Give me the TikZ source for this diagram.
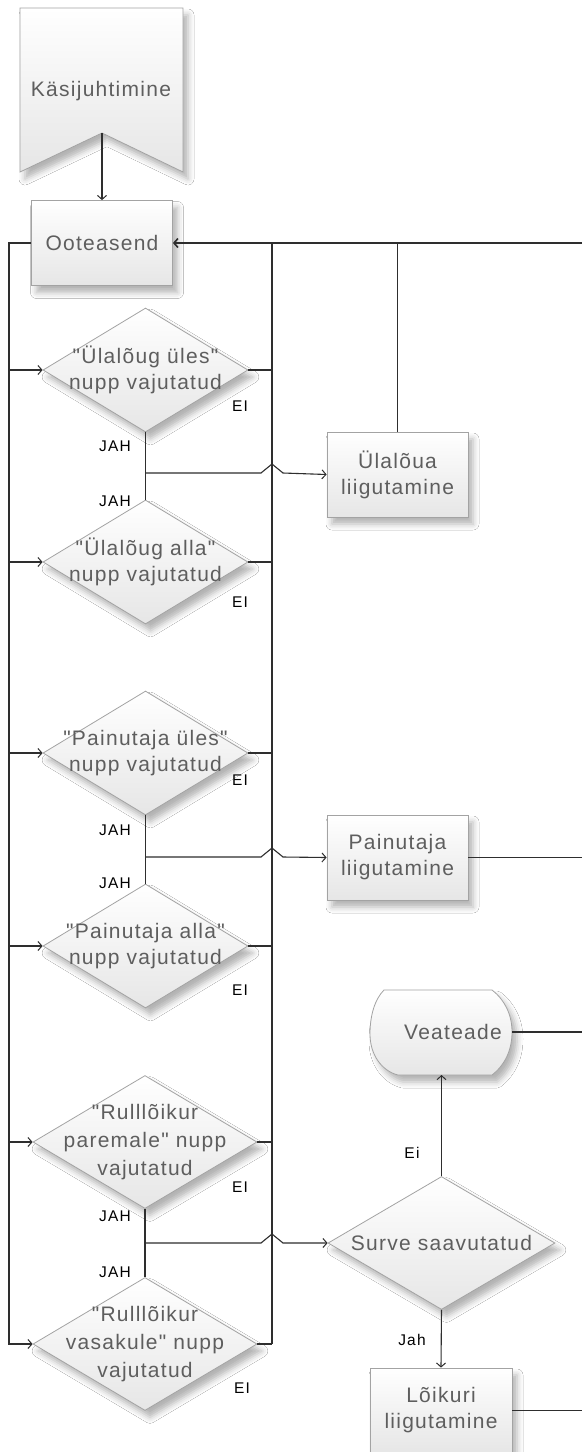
\documentclass[tikz,border=0pt]{standalone}
\usepackage{fontspec}
\setmainfont{Liberation Sans}
\newfontfamily\boxfont[LetterSpace=6]{Liberation Sans}
\newfontfamily\lblfont[LetterSpace=8]{Liberation Sans}
\usetikzlibrary{shapes.geometric, arrows.meta, shadows.blur, calc}
\definecolor{edgecol}{HTML}{2E2E2E}
\definecolor{bordercol}{HTML}{A3A3A3}
\definecolor{textcol}{HTML}{5E5E5E}
\definecolor{fillbot}{HTML}{E6E6E6}

\tikzset{
  flow/.style={draw=edgecol, line width=1.1pt},
  arr/.style={flow, -{Straight Barb[length=4pt,width=9pt,line width=1pt]}},
  shaded/.style={draw=bordercol, line width=0.8pt, top color=white, bottom color=fillbot,
    blur shadow={shadow xshift=5pt, shadow yshift=-7pt, shadow blur radius=6pt, shadow opacity=30}},
  txt/.style={align=center, text=textcol, font=\boxfont\fontsize{21}{26}\selectfont},
  procbox/.style={shaded, txt, rectangle, minimum width=141pt, minimum height=85pt, inner sep=0pt},
  decision/.style={shaded, diamond, minimum width=205pt, minimum height=124pt, inner sep=0pt},
  bigdecision/.style={decision, minimum width=224pt, minimum height=133pt},
  lbl/.style={font=\lblfont\fontsize{15.5}{15.5}\selectfont, text=black, inner sep=0pt},
}

\begin{document}
\begin{tikzpicture}[x=1pt, y=-1pt]
\useasboundingbox (0,0) rectangle (582,1452);
\clip (0,0) rectangle (582,1452);
\fill[white] (0,0) rectangle (582,1452);

% start banner
\draw[shaded] (20,8) -- (183,8) -- (183,172) -- (102,133) -- (20,172) -- cycle;
\node[txt] (kasi) at (101,91) {Käsijuhtimine};
\coordinate (kasin) at (102,133);

% waiting state
\node[procbox] (ootea) at (102,243) {Ooteasend};

% button decisions
\node[decision] (d1) at (145.5,370) {};
\node[decision] (d2) at (145.5,562) {};
\node[decision] (d3) at (145.5,753) {};
\node[decision] (d4) at (145.5,946) {};
\node[bigdecision] (d5) at (145,1142) {};
\node[bigdecision] (d6) at (145,1344) {};
\node[txt] (t1) at (d1) {"Ülalõug üles"\\nupp vajutatud};
\node[txt] (t2) at (d2) {"Ülalõug alla"\\nupp vajutatud};
\node[txt] (t3) at (d3) {"Painutaja üles"\\nupp vajutatud};
\node[txt] (t4) at (d4) {"Painutaja alla"\\nupp vajutatud};
\node[txt, font=\boxfont\fontsize{21}{28}\selectfont] (t5) at (d5) {"Rulllõikur\\paremale" nupp\\vajutatud};
\node[txt, font=\boxfont\fontsize{21}{28}\selectfont] (t6) at (d6) {"Rulllõikur\\vasakule" nupp\\vajutatud};

% actions
\node[procbox] (ulal) at (397.5,474.5) {Ülalõua\\liigutamine};
\node[procbox] (paint) at (397.5,857.5) {Painutaja\\liigutamine};
\node[shaded, diamond, minimum width=227pt, minimum height=133pt, inner sep=0pt] (surve) at (441.5,1243) {};
\node[txt] (survet) at (surve) {Surve saavutatud};
\node[procbox, minimum width=142pt] (loik) at (441,1410.5) {Lõikuri\\liigutamine};

% error display
\draw[shaded] (384,990) -- (492,990) .. controls (505,1000) and (512,1015) .. (512,1032)
  .. controls (512,1050) and (505,1065) .. (492,1075) -- (398,1075)
  .. controls (382,1071) and (370,1055) .. (370,1034)
  .. controls (370,1015) and (375,999) .. (384,990) -- cycle;
\node[txt] (veat) at (453,1032) {Veateade};
\coordinate (veate) at (512,1032);
\coordinate (veats) at (441.5,1075);

% helper coordinates for the buses
\coordinate (lb) at (9,243);
\coordinate (bus) at (272,243);
\coordinate (rx) at (582,243);

% start to waiting state
\draw[arr] (kasin) -- (ootea.north);

% left feed bus
\draw[arr] (ootea.west) -| (lb |- d6.west) -- (d6.west);
\foreach \d in {d1,d2,d3,d4,d5} \draw[arr] (lb |- \d.west) -- (\d.west);

% right return bus
\foreach \d in {d1,d2,d3,d4,d5,d6} \draw[flow] (\d.east) -- (\d.east -| bus);
\draw[flow, line width=1.9pt] (bus) -- (bus |- d5.east);
\draw[flow] (bus |- d5.east) -- (bus |- d6.east);
\draw[flow, line width=1.4pt, -{Straight Barb[length=4pt,width=9pt,line width=1.6pt]}] (rx) -- (ootea.east);
\draw[flow] (ulal.north) -- (ulal.north |- rx);
\draw[flow] (paint.east) -- (paint.east -| rx);
\draw[flow] (veate) -- (veate -| rx);
\draw[flow] (loik.east) -- (loik.east -| rx);

% yes branches with line hops over the return bus
\draw[flow] (d1.south) -- (d2.north);
\draw[flow] (d3.south) -- (d4.north);
\draw[flow] (d5.south) -- (d6.north);
\coordinate (j1) at (145.5,473);
\coordinate (j2) at (145.5,857);
\coordinate (j3) at (145,1243);
\draw[arr] (j1) -- ($(j1 -| bus)+(-11,0)$) -- ($(j1 -| bus)+(0,-9)$) -- ($(j1 -| bus)+(11,0)$) -- (ulal.west);
\draw[arr] (j2) -- ($(j2 -| bus)+(-11,0)$) -- ($(j2 -| bus)+(0,-9)$) -- ($(j2 -| bus)+(11,0)$) -- (paint.west);
\draw[arr] (j3) -- ($(j3 -| bus)+(-11,0)$) -- ($(j3 -| bus)+(0,-9)$) -- ($(j3 -| bus)+(11,0)$) -- (surve.west);

% pressure check
\draw[arr] (surve.north) -- (veats);
\draw[arr] (surve.south) -- (loik.north);

% branch labels
\node[lbl] (ei1) at (240,406) {EI};
\node[lbl] (ei2) at (240,602) {EI};
\node[lbl] (ei3) at (240,780) {EI};
\node[lbl] (ei4) at (240,990) {EI};
\node[lbl] (ei5) at (240,1187) {EI};
\node[lbl] (ei6) at (242,1388) {EI};
\node[lbl] (jah1) at (115,446) {JAH};
\node[lbl] (jah2) at (115,501) {JAH};
\node[lbl] (jah3) at (115,830) {JAH};
\node[lbl] (jah4) at (115,883) {JAH};
\node[lbl] (jah5) at (115,1216) {JAH};
\node[lbl] (jah6) at (115,1272) {JAH};
\node[lbl] (ei7) at (412,1153) {Ei};
\node[lbl] (jah7) at (412,1340) {Jah};
\end{tikzpicture}
\end{document}
